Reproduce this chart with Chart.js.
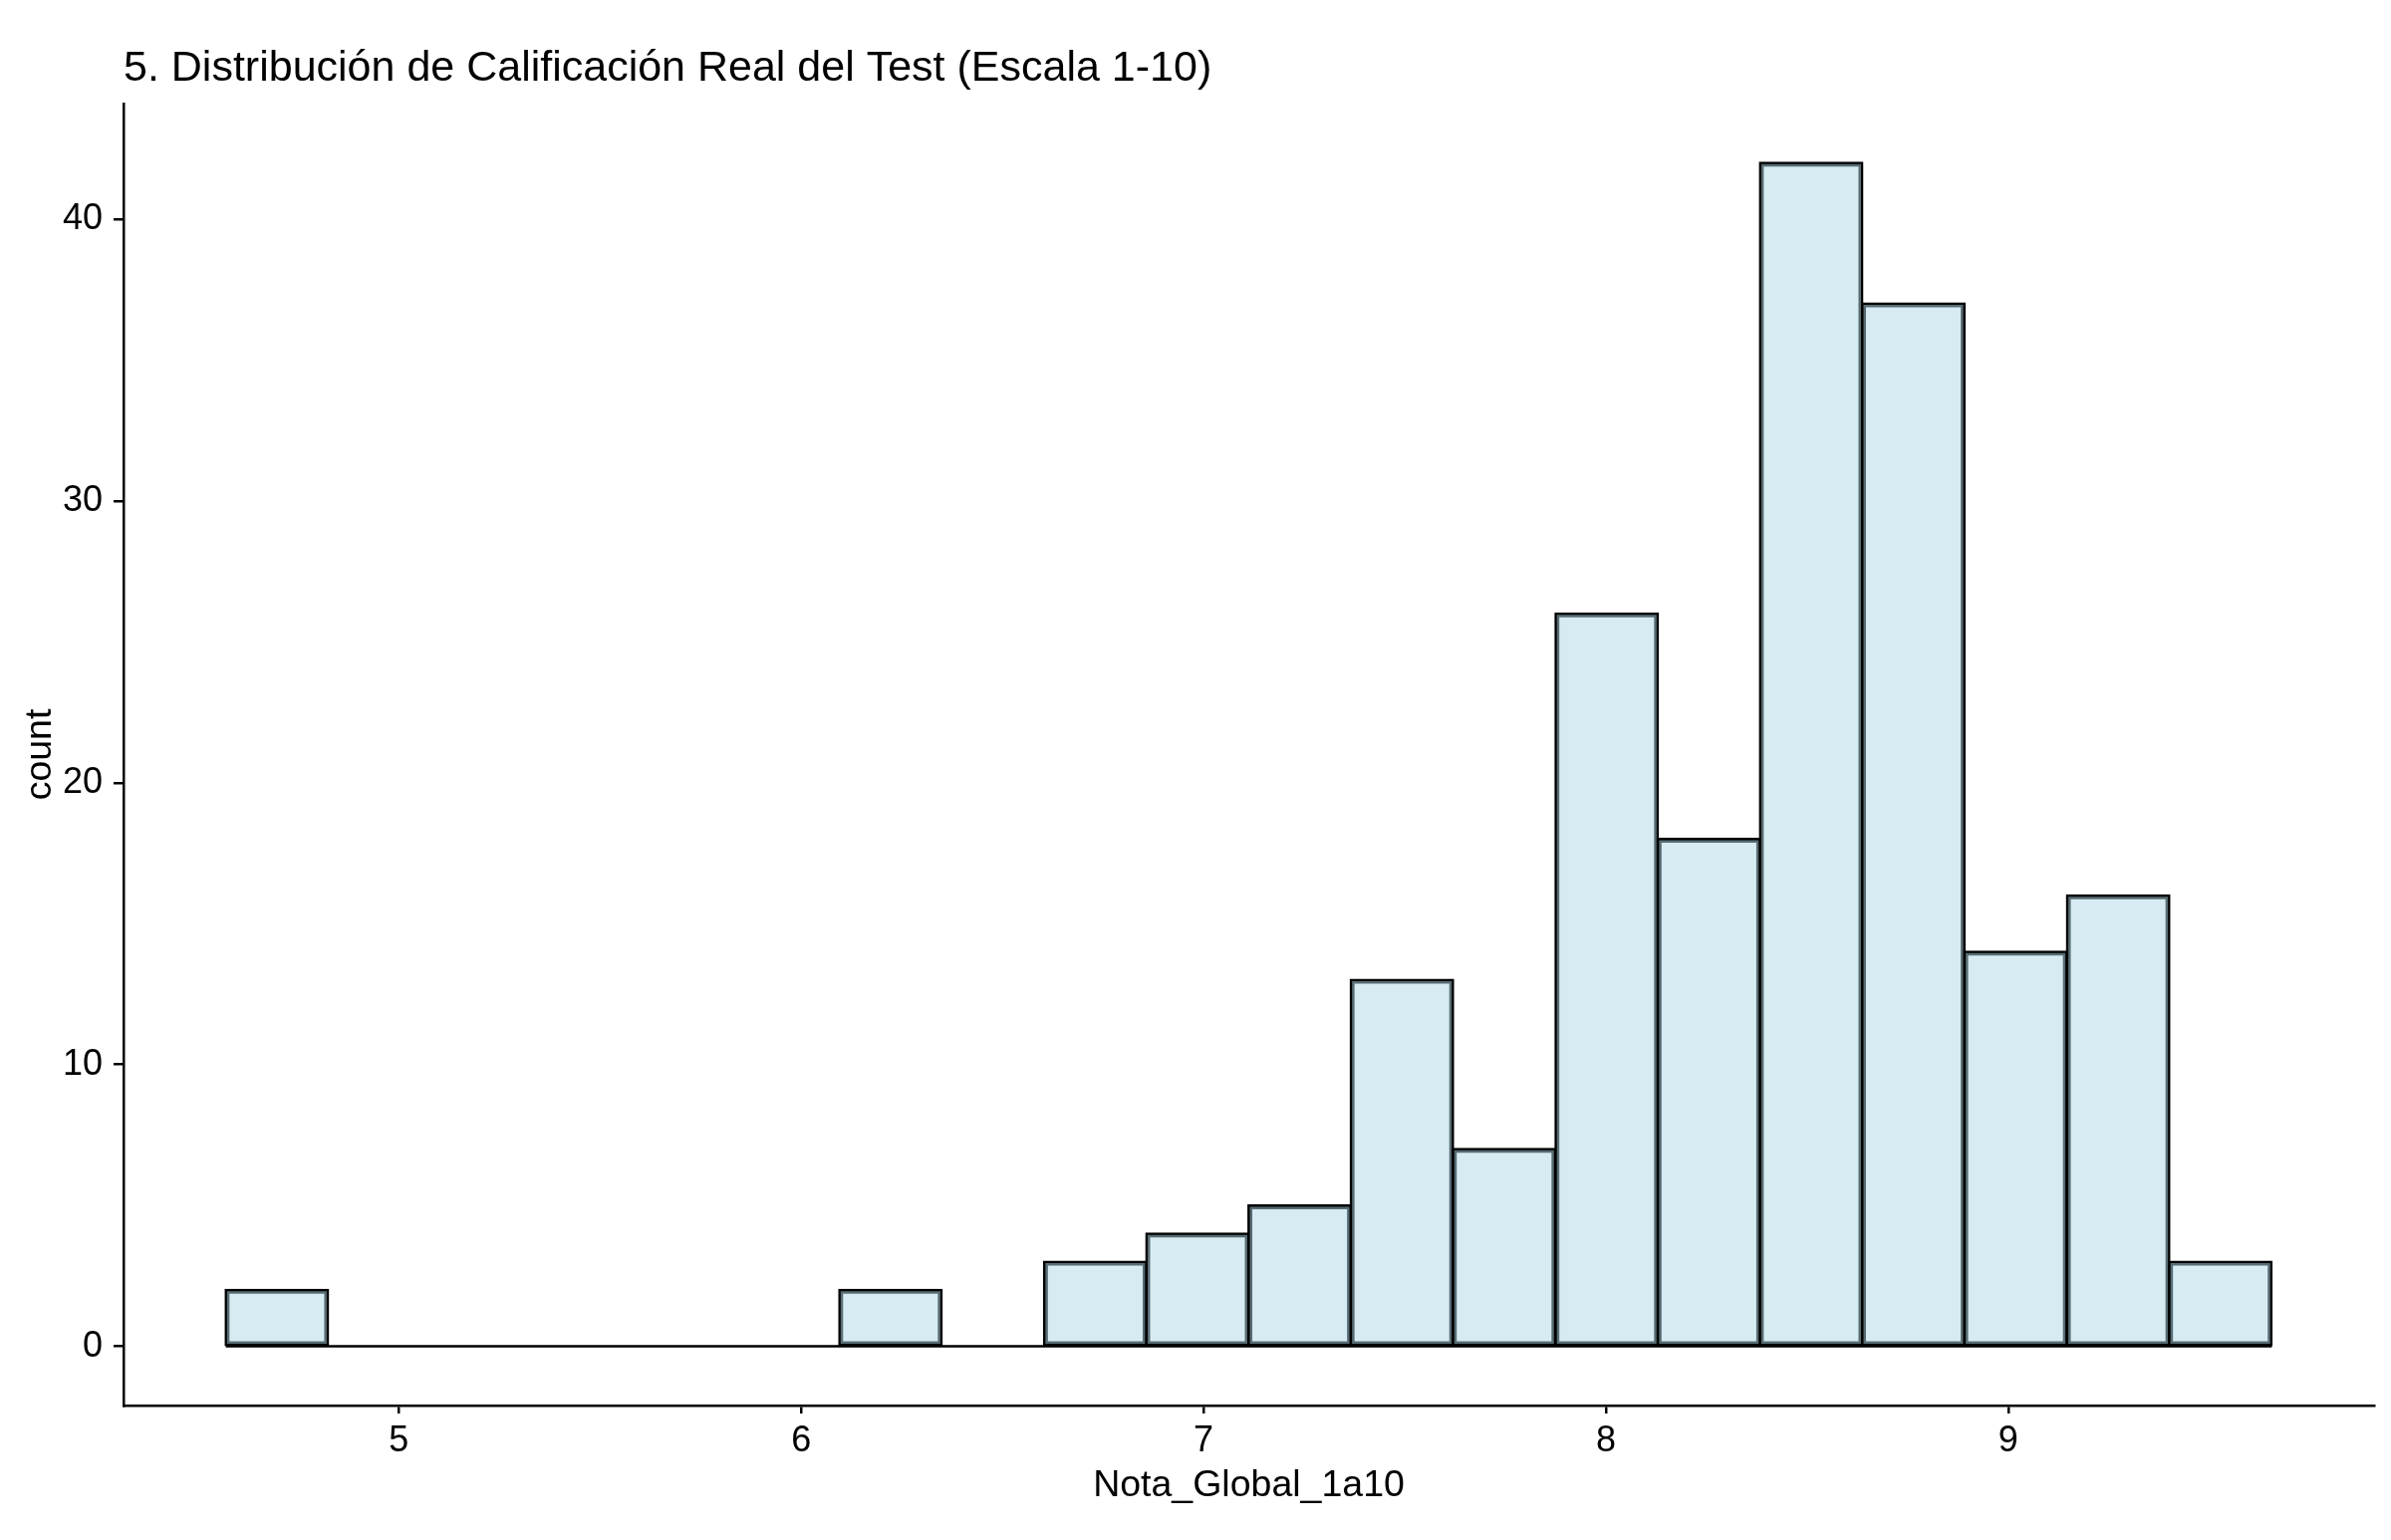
<!DOCTYPE html>
<html>
<head>
<meta charset="utf-8">
<script src="https://cdn.jsdelivr.net/npm/chart.js@4/dist/chart.umd.min.js"></script>
<style>
    html, body { margin: 0; padding: 0; background: #fff; }
    #wrap { width: 2400px; height: 1546px; position: relative; }
</style>
</head>
<body>
<div id="wrap"><canvas id="myCanvas"></canvas></div>
<script>
// histogram bins (centers) and counts
const binCenters = [4.697, 4.951, 5.205, 5.460, 5.714, 5.968, 6.222, 6.476, 6.731, 6.985,
                    7.239, 7.493, 7.747, 8.002, 8.256, 8.510, 8.764, 9.018, 9.273, 9.527];
const counts = [2, 0, 0, 0, 0, 0, 2, 0, 3, 4, 5, 13, 7, 26, 18, 42, 37, 14, 16, 3];
const histRange = [4.570, 9.655];
const xTicks = [5, 6, 7, 8, 9];
const yTicks = [0, 10, 20, 30, 40];

const titleText = '5. Distribución de Calificación Real del Test (Escala 1-10)';
const xTitle = 'Nota_Global_1a10';
const yTitle = 'count';

const fontFamily = "'Liberation Sans', Arial, sans-serif";
const barFill = 'rgba(173, 216, 230, 0.5)';
const lineW = 2.5;

const titlePlugin = {
    id: 'leftTitle',
    afterDraw(chart) {
        const ctx = chart.ctx;
        ctx.save();
        ctx.font = `43px ${fontFamily}`;
        ctx.fillStyle = '#000';
        ctx.textAlign = 'left';
        ctx.textBaseline = 'alphabetic';
        ctx.fillText(titleText, chart.chartArea.left, 81);
        ctx.restore();
    }
};

const canvas = document.getElementById('myCanvas');

new Chart(canvas.getContext('2d'), {
    type: 'bar',
    data: {
        datasets: [{
            type: 'bar',
            label: 'count',
            data: binCenters.map((x, i) => ({ x: x, y: counts[i] })),
            backgroundColor: (c) => (c.raw && c.raw.y === 0 ? 'rgba(0,0,0,0)' : barFill),
            borderColor: '#000',
            borderWidth: lineW,
            borderSkipped: false,
            inflateAmount: lineW / 2,
            barPercentage: 1,
            categoryPercentage: 1,
            order: 0
        }, {
            type: 'line',
            label: 'base',
            data: histRange.map(x => ({ x: x, y: 0 })),
            borderColor: '#000',
            borderWidth: lineW,
            pointRadius: 0,
            order: 1
        }]
    },
    options: {
        responsive: true,
        maintainAspectRatio: false,
        animation: false,
        layout: { padding: { top: 104, right: 17, left: 0, bottom: 0 } },
        plugins: {
            legend: { display: false },
            tooltip: { enabled: false },
            title: { display: false }
        },
        scales: {
            x: {
                type: 'linear',
                offset: false,
                min: 4.316,
                max: 9.909,
                afterFit: (s) => { s.height = 135; },
                afterBuildTicks: (s) => { s.ticks = xTicks.map(v => ({ value: v })); },
                border: { display: true, color: '#000', width: lineW },
                grid: { display: true, offset: false, drawOnChartArea: false, drawTicks: true, tickLength: 8, color: '#000', lineWidth: lineW },
                ticks: {
                    color: '#000',
                    padding: 6,
                    maxRotation: 0,
                    font: { family: fontFamily, size: 36, lineHeight: 1.2 }
                },
                title: {
                    display: true,
                    text: xTitle,
                    color: '#000',
                    padding: { top: 0, bottom: 32 },
                    font: { family: fontFamily, size: 37.5, lineHeight: 1.2 }
                }
            },
            y: {
                type: 'linear',
                min: -2.1,
                max: 44.1,
                afterFit: (s) => { s.width = 124; },
                afterBuildTicks: (s) => { s.ticks = yTicks.map(v => ({ value: v })); },
                border: { display: true, color: '#000', width: lineW },
                grid: { display: true, drawOnChartArea: false, drawTicks: true, tickLength: 10, color: '#000', lineWidth: lineW },
                ticks: {
                    color: '#000',
                    padding: 11,
                    font: { family: fontFamily, size: 36, lineHeight: 1.2 }
                },
                title: {
                    display: true,
                    text: yTitle,
                    color: '#000',
                    padding: { top: 18, bottom: 0 },
                    font: { family: fontFamily, size: 37.5, lineHeight: 1.2 }
                }
            }
        }
    },
    plugins: [titlePlugin]
});
</script>
</body>
</html>
